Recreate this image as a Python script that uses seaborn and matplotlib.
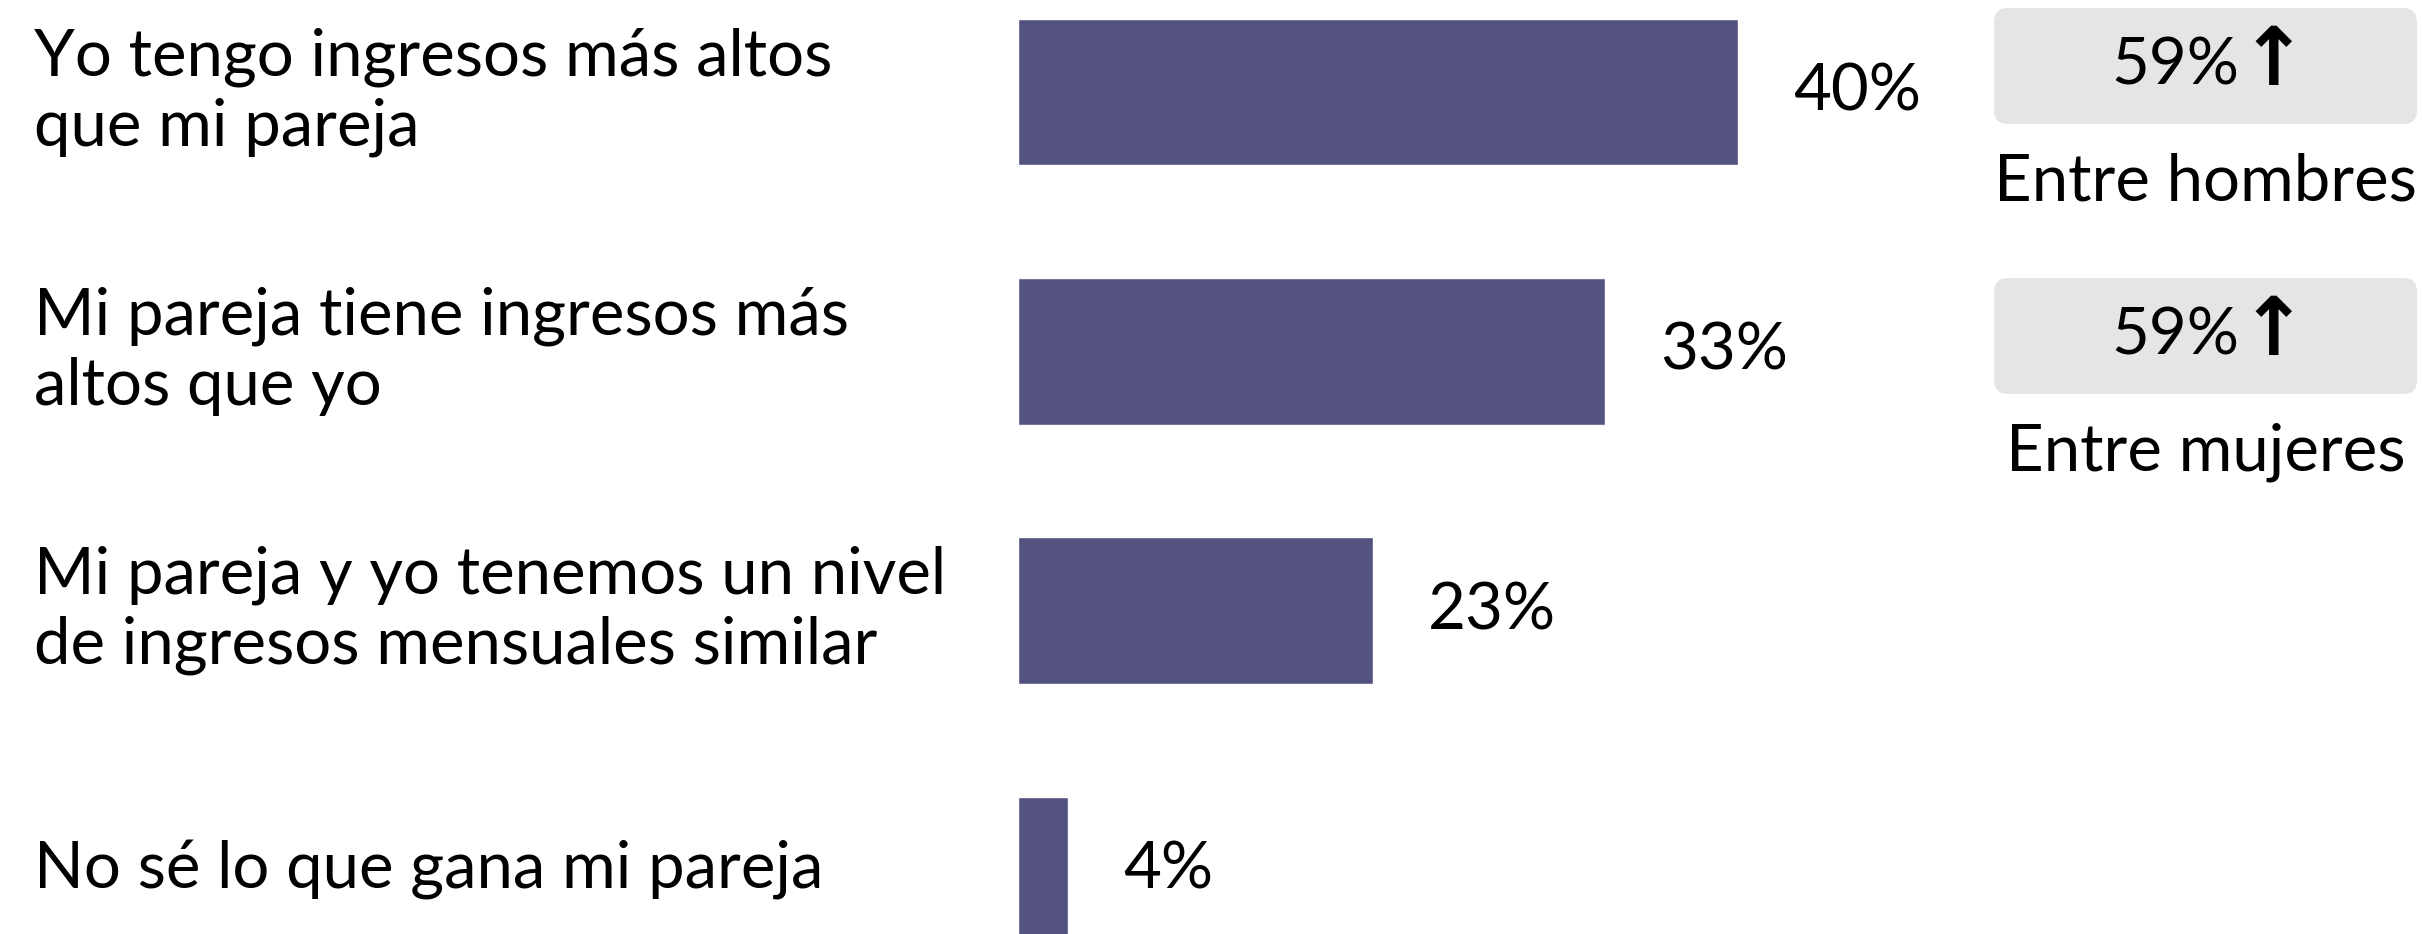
import matplotlib
matplotlib.use('Agg')
import matplotlib.pyplot as plt
import seaborn as sns
import pandas as pd
from matplotlib.patches import FancyBboxPatch
from matplotlib.transforms import blended_transform_factory

# data
categories = [
    'Yo tengo ingresos más altos\nque mi pareja',
    'Mi pareja tiene ingresos más\naltos que yo',
    'Mi pareja y yo tenemos un nivel\nde ingresos mensuales similar',
    'No sé lo que gana mi pareja',
]
shares = [40, 33, 23, 4]               # printed values
bar_length = [40, 32.6, 19.7, 2.8]     # bar lengths as drawn in the source (not to scale)
callout_values = ['59%', '59%']
callout_groups = ['Entre hombres', 'Entre mujeres']

BAR_COLOR = '#535280'
BOX_COLOR = '#e5e5e5'
FONT = 'Lato'
FS = 47

sns.set_style('white')
plt.rcParams['font.family'] = [FONT, 'DejaVu Sans']

W, H = 2422, 934
fig = plt.figure(figsize=(W / 100, H / 100), dpi=100)

# bars axis: left edge at bar start, 18 px per percent point
ax_left, ax_right = 1018, 1980
ax = fig.add_axes([ax_left / W, 0, (ax_right - ax_left) / W, 1])
df = pd.DataFrame({'cat': categories, 'len': bar_length})
sns.barplot(data=df, x='len', y='cat', orient='h', color=BAR_COLOR,
            width=0.566, saturation=1, ax=ax)
ax.set_xlim(0, (ax_right - ax_left) / 18)
row_px = 259.5
ax.set_ylim(3 + (H - 870) / row_px, -92 / row_px)
ax.axis('off')

for i, (v, L) in enumerate(zip(shares, bar_length)):
    ax.annotate(f'{v}%', xy=(L, i), xytext=(55, 0), textcoords='offset pixels',
                ha='left', va='center', fontsize=FS, color='black')

trans = blended_transform_factory(fig.transFigure, ax.transData)
for i, c in enumerate(categories):
    ax.text(34 / W, i, c, transform=trans, ha='left', va='center',
            fontsize=FS, color='black', linespacing=1.22)

# callout boxes on the right, pixel coordinates
ov = fig.add_axes([0, 0, 1, 1], zorder=-1)
ov.set_xlim(0, W)
ov.set_ylim(H, 0)
ov.axis('off')
box_tops = [8, 278]
r = 14
for top, val, grp in zip(box_tops, callout_values, callout_groups):
    x0, bw, bh = 1994, 423, 116
    ov.add_patch(FancyBboxPatch((x0 + r, top + r), bw - 2 * r, bh - 2 * r,
                                boxstyle=f'round,pad={r}', fc=BOX_COLOR, ec='none'))
    ov.text(x0 + bw / 2 - 30, top + bh / 2, val, ha='center', va='center',
            fontsize=FS, color='black')
    ov.text(x0 + bw / 2 + 68, top + bh / 2 - 3, '↑', ha='center', va='center',
            fontsize=58, color='black', fontweight='bold', family='DejaVu Sans')
    ov.text(x0 + bw / 2, top + bh + 58, grp, ha='center', va='center',
            fontsize=FS, color='black')

fig.savefig('out.png', dpi=100)
